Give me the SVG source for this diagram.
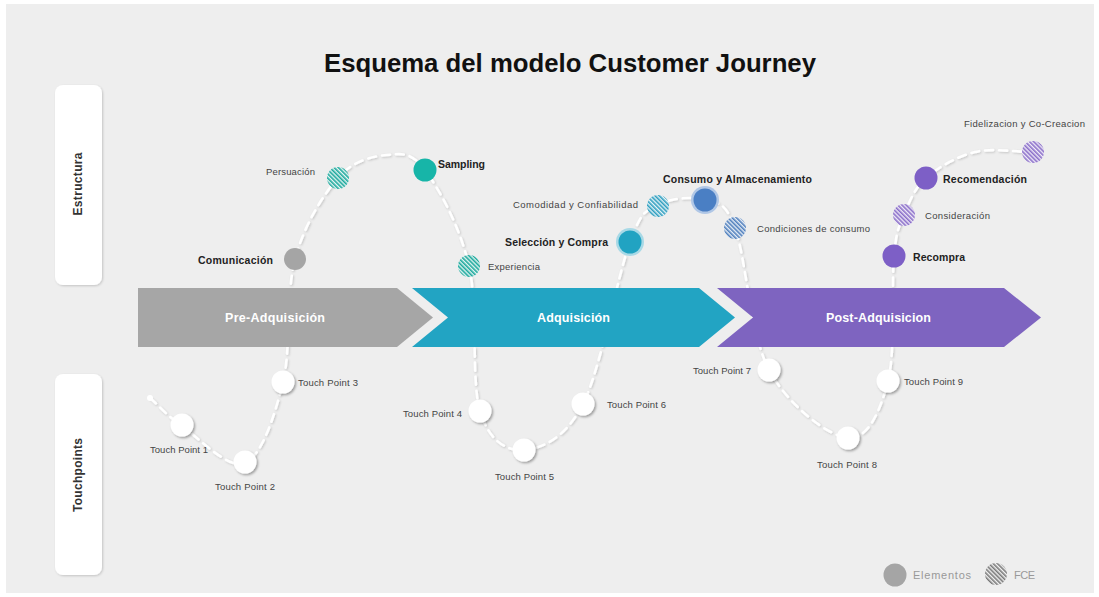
<svg xmlns="http://www.w3.org/2000/svg" width="1099" height="597" viewBox="0 0 1099 597">
  <defs>
    <style>
      .lbl { font-family: "Liberation Sans", Arial, sans-serif; font-size: 9.5px; fill: #444; }
      .bold { font-family: "Liberation Sans", Arial, sans-serif; font-size: 10.5px; font-weight: bold; fill: #222; }
      .phase { font-family: "Liberation Sans", Arial, sans-serif; font-size: 12.5px; font-weight: bold; fill: #fff; text-anchor: middle; }
      .side { font-family: "Liberation Sans", Arial, sans-serif; font-size: 12px; font-weight: bold; fill: #333; text-anchor: middle; }
      .legend { font-family: "Liberation Sans", Arial, sans-serif; font-size: 11px; fill: #999; }
      .tp { fill: #fff; filter: url(#drop); }
    </style>
    <filter id="drop" x="-50%" y="-50%" width="200%" height="200%">
      <feDropShadow dx="1.5" dy="1.5" stdDeviation="1.2" flood-color="#000" flood-opacity="0.35"/>
    </filter>
    <filter id="soft" x="-5%" y="-5%" width="110%" height="110%">
      <feDropShadow dx="1" dy="1" stdDeviation="1" flood-color="#000" flood-opacity="0.18"/>
    </filter>
    <pattern id="hTeal" width="3" height="3" patternUnits="userSpaceOnUse" patternTransform="rotate(-45)">
      <rect width="3" height="3" fill="#e6f4f2"/><rect width="1.6" height="3" fill="#1ba99d"/>
    </pattern>
    <pattern id="hCyan" width="3" height="3" patternUnits="userSpaceOnUse" patternTransform="rotate(-45)">
      <rect width="3" height="3" fill="#e6f2f6"/><rect width="1.6" height="3" fill="#2f9fc0"/>
    </pattern>
    <pattern id="hBlue" width="3" height="3" patternUnits="userSpaceOnUse" patternTransform="rotate(-45)">
      <rect width="3" height="3" fill="#e8eef6"/><rect width="1.6" height="3" fill="#4f7fbd"/>
    </pattern>
    <pattern id="hPurple" width="3" height="3" patternUnits="userSpaceOnUse" patternTransform="rotate(-45)">
      <rect width="3" height="3" fill="#efebf7"/><rect width="1.6" height="3" fill="#8a6ec9"/>
    </pattern>
    <pattern id="hGrey" width="3" height="3" patternUnits="userSpaceOnUse" patternTransform="rotate(-45)">
      <rect width="3" height="3" fill="#f2f2f2"/><rect width="1.6" height="3" fill="#7a7a7a"/>
    </pattern>
  </defs>

  <!-- page -->
  <rect width="1099" height="597" fill="#fff"/>
  <rect x="6" y="4" width="1088" height="589" fill="#eeeeee"/>

  <text x="570" y="72" text-anchor="middle" textLength="492" lengthAdjust="spacingAndGlyphs" style="font-family:'Liberation Sans',Arial,sans-serif;font-size:25px;font-weight:bold;fill:#111">Esquema del modelo Customer Journey</text>

  <!-- side panels -->
  <g id="estructura">
    <rect x="55" y="85" width="47" height="200" rx="8" fill="#fff" filter="url(#soft)"/>
    <text class="side" transform="translate(82 184) rotate(-90)" textLength="63">Estructura</text>
  </g>
  <g id="touchpoints">
    <rect x="55" y="374" width="47" height="201" rx="8" fill="#fff" filter="url(#soft)"/>
    <text class="side" transform="translate(82 475) rotate(-90)" textLength="74">Touchpoints</text>
  </g>

  <!-- journey line -->
  <g id="connectors">
    <path fill="none" stroke="#fff" stroke-width="2.6" stroke-dasharray="8 6" stroke-linecap="round" filter="url(#soft)"
      d="M150,398 C160.7,407.3 166.2,415.2 182,426 C197.8,436.8 228.2,470.3 245,463 C261.8,455.7 274.7,416 283,382 C291.3,348 285.8,293 295,259 C304.2,225 322.7,195.3 338,178 C352.5,160.7 372.5,156.3 387,155 C401.5,153.7 411.3,151.5 425,170 C438.7,188.5 459.8,225.8 469,266 C478.2,306.2 470.8,380.3 480,411 C489.2,441.7 506.8,451.2 524,450 C541.2,448.8 565.3,438.7 583,404 C600.7,369.3 617.5,275.2 630,242 C642.5,208.8 645.5,212 658,205 C670.5,198 692.2,196.2 705,200 C717.8,203.8 724.3,199.7 735,228 C745.7,256.3 750.2,335 769,370 C787.8,405 828.2,436.2 848,438 C867.8,439.8 880.3,411.3 888,381 C895.7,350.7 891.3,283.7 894,256 C896.7,228.3 898.7,228 904,215 C909.3,202 914.2,188.5 926,178 C937.8,167.5 957.2,156.3 975,152 C992.8,147.7 1013.7,152 1033,152"/>
    <circle cx="150" cy="398" r="3" fill="#fff"/>
  </g>

  <!-- phases -->
  <g id="pre-adquisicion">
    <path d="M138,288 H397 L433,317.5 L397,347 H138 Z" fill="#a6a6a6"/>
    <text class="phase" x="275" y="322" textLength="100">Pre-Adquisición</text>
  </g>
  <g id="adquisicion">
    <path d="M412,288 H699 L735,317.5 L699,347 H412 L448,317.5 Z" fill="#22a4c3"/>
    <text class="phase" x="573.5" y="322" textLength="73">Adquisición</text>
  </g>
  <g id="post-adquisicion">
    <path d="M717,288 H1004 L1041,317.5 L1004,347 H717 L753,317.5 Z" fill="#7e64c0"/>
    <text class="phase" x="878.5" y="322" textLength="105">Post-Adquisicion</text>
  </g>

  <!-- structure elements -->
  <g id="comunicacion">
    <circle cx="295" cy="259" r="11" fill="#a5a5a5"/>
    <text class="bold" x="198" y="264" textLength="75">Comunicación</text>
  </g>
  <g id="persuacion">
    <circle cx="338" cy="178" r="11" fill="url(#hTeal)"/>
    <text class="lbl" x="315" y="175" text-anchor="end" textLength="49">Persuación</text>
  </g>
  <g id="sampling">
    <circle cx="425" cy="170" r="11.5" fill="#17b5a8"/>
    <text class="bold" x="438" y="168" textLength="47">Sampling</text>
  </g>
  <g id="experiencia">
    <circle cx="469" cy="266" r="11" fill="url(#hTeal)"/>
    <text class="lbl" x="488" y="270" textLength="52">Experiencia</text>
  </g>
  <g id="seleccion-compra">
    <circle cx="630" cy="242" r="14" fill="#a8d9e6"/>
    <circle cx="630" cy="242" r="11.5" fill="#21a3c2"/>
    <text class="bold" x="505" y="246" textLength="103">Selección y Compra</text>
  </g>
  <g id="comodidad">
    <circle cx="658" cy="206" r="11" fill="url(#hCyan)"/>
    <text class="lbl" x="513" y="208" textLength="125">Comodidad y Confiabilidad</text>
  </g>
  <g id="consumo">
    <circle cx="705" cy="200" r="14" fill="#b0c7e6"/>
    <circle cx="705" cy="200" r="11.5" fill="#4a7fc4"/>
    <text class="bold" x="663" y="183" textLength="149">Consumo y Almacenamiento</text>
  </g>
  <g id="condiciones">
    <circle cx="735" cy="228" r="11" fill="url(#hBlue)"/>
    <text class="lbl" x="757" y="232" textLength="113">Condiciones de consumo</text>
  </g>
  <g id="recompra">
    <circle cx="894" cy="256" r="11.5" fill="#7d5fc6"/>
    <text class="bold" x="913" y="261" textLength="52">Recompra</text>
  </g>
  <g id="consideracion">
    <circle cx="904" cy="215" r="11" fill="url(#hPurple)"/>
    <text class="lbl" x="925" y="219" textLength="65">Consideración</text>
  </g>
  <g id="recomendacion">
    <circle cx="926" cy="178" r="11.5" fill="#7d5fc6"/>
    <text class="bold" x="943" y="183" textLength="84">Recomendación</text>
  </g>
  <g id="fidelizacion">
    <circle cx="1033" cy="152" r="11" fill="url(#hPurple)"/>
    <text class="lbl" x="964" y="127" textLength="121">Fidelizacion y Co-Creacion</text>
  </g>

  <!-- touch points -->
  <g id="tp1"><circle class="tp" cx="182" cy="425" r="11.5"/><text class="lbl" x="150" y="453" textLength="58">Touch Point 1</text></g>
  <g id="tp2"><circle class="tp" cx="245" cy="462" r="11.5"/><text class="lbl" x="215" y="490" textLength="60">Touch Point 2</text></g>
  <g id="tp3"><circle class="tp" cx="283" cy="382" r="11.5"/><text class="lbl" x="298" y="386" textLength="60">Touch Point 3</text></g>
  <g id="tp4"><circle class="tp" cx="480" cy="411" r="11.5"/><text class="lbl" x="403" y="417" textLength="59">Touch Point 4</text></g>
  <g id="tp5"><circle class="tp" cx="524" cy="450" r="11.5"/><text class="lbl" x="495" y="480" textLength="59">Touch Point 5</text></g>
  <g id="tp6"><circle class="tp" cx="583" cy="404" r="11.5"/><text class="lbl" x="607" y="408" textLength="59">Touch Point 6</text></g>
  <g id="tp7"><circle class="tp" cx="769" cy="370" r="11.5"/><text class="lbl" x="693" y="374" textLength="58">Touch Point 7</text></g>
  <g id="tp8"><circle class="tp" cx="848" cy="438" r="11.5"/><text class="lbl" x="817" y="468" textLength="60">Touch Point 8</text></g>
  <g id="tp9"><circle class="tp" cx="888" cy="381" r="11.5"/><text class="lbl" x="904" y="385" textLength="59">Touch Point 9</text></g>

  <!-- legend -->
  <g id="legend">
    <circle cx="895" cy="575" r="11.5" fill="#a5a5a5"/>
    <text class="legend" x="913" y="579" textLength="58">Elementos</text>
    <circle cx="996" cy="574" r="11" fill="url(#hGrey)"/>
    <text class="legend" x="1014" y="579" textLength="21">FCE</text>
  </g>
</svg>
